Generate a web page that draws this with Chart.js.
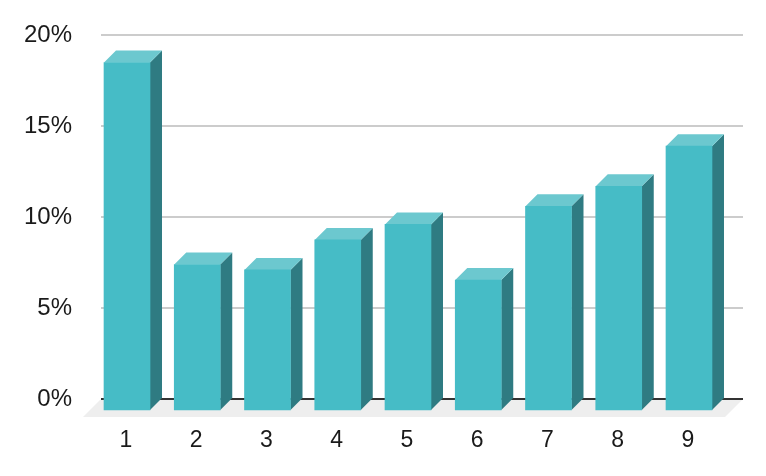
<!DOCTYPE html>
<html>
<head>
<meta charset="utf-8">
<style>
  html, body { margin: 0; padding: 0; background: #fff; }
  canvas { display: block; }
</style>
<script src="https://cdn.jsdelivr.net/npm/chart.js@4"></script>
</head>
<body>
<canvas id="chart" width="766" height="476"></canvas>
<script>
const CATEGORIES = [1, 2, 3, 4, 5, 6, 7, 8, 9];
const VALUES = [19.15, 8.05, 7.75, 9.4, 10.25, 7.2, 11.25, 12.35, 14.55];
const Y_TICKS = [0, 5, 10, 15, 20];

const FRONT = '#46bcc6', SIDE = '#2f7b82', TOP = '#6cc8cf';
const DEPTH_X = 12, DEPTH_Y = 12;

// Floor, side and top faces are hung off the library's bar elements;
// the bars themselves get drawn shifted forward as the front faces.
const box3d = {
  id: 'box3d',
  beforeDraw(chart) {
    const { ctx, chartArea: a } = chart;
    ctx.save();
    ctx.fillStyle = '#eeeeee';
    ctx.beginPath();
    ctx.moveTo(a.left, a.bottom);
    ctx.lineTo(a.right, a.bottom);
    ctx.lineTo(a.right - 18, a.bottom + 18);
    ctx.lineTo(a.left - 18, a.bottom + 18);
    ctx.closePath();
    ctx.fill();
    ctx.restore();
  },
  beforeDatasetsDraw(chart) {
    const { ctx } = chart;
    ctx.save();
    ctx.translate(-DEPTH_X, DEPTH_Y);
    chart.getDatasetMeta(0).data.forEach(bar => {
      const l = bar.x - bar.width / 2, r = bar.x + bar.width / 2;
      ctx.fillStyle = SIDE;
      ctx.beginPath();
      ctx.moveTo(r, bar.y);
      ctx.lineTo(r + DEPTH_X, bar.y - DEPTH_X);
      ctx.lineTo(r + DEPTH_X, bar.base - DEPTH_X);
      ctx.lineTo(r, bar.base);
      ctx.closePath();
      ctx.fill();
      ctx.fillStyle = TOP;
      ctx.beginPath();
      ctx.moveTo(l, bar.y);
      ctx.lineTo(l + DEPTH_X, bar.y - DEPTH_X);
      ctx.lineTo(r + DEPTH_X, bar.y - DEPTH_X);
      ctx.lineTo(r, bar.y);
      ctx.closePath();
      ctx.fill();
    });
  },
  afterDatasetsDraw(chart) {
    chart.ctx.restore();
  }
};

new Chart(document.getElementById('chart'), {
  type: 'bar',
  data: {
    datasets: [{
      data: CATEGORIES.map((c, i) => ({ x: c, y: VALUES[i] })),
      backgroundColor: FRONT,
      borderWidth: 0,
      barThickness: 46,
      clip: false
    }]
  },
  plugins: [box3d],
  options: {
    responsive: false,
    animation: false,
    layout: { padding: { top: 35, right: 23, left: 0, bottom: 0 } },
    plugins: { legend: { display: false }, tooltip: { enabled: false } },
    scales: {
      x: {
        type: 'linear',
        offset: false,
        min: 0.459,
        max: 9.598,
        afterBuildTicks: s => { s.ticks = CATEGORIES.map(v => ({ value: v })); },
        afterFit: s => { s.height = 77; s.paddingLeft = 0; s.paddingRight = 0; },
        grid: { display: false },
        border: { display: false },
        ticks: {
          autoSkip: false,
          maxRotation: 0,
          labelOffset: -13,
          padding: 20,
          color: '#1a1a1a',
          font: { family: 'Liberation Sans', size: 23 },
          callback: v => String(v)
        }
      },
      y: {
        min: 0,
        max: 20,
        afterBuildTicks: s => { s.ticks = Y_TICKS.map(v => ({ value: v })); },
        afterFit: s => { s.width = 101; s.paddingTop = 0; s.paddingBottom = 0; },
        border: { display: false },
        grid: {
          drawTicks: false,
          lineWidth: 2,
          color: c => c.tick.value === 0 ? '#333333' : '#cccccc'
        },
        ticks: {
          padding: 29,
          color: '#1a1a1a',
          font: { family: 'Liberation Sans', size: 24 },
          callback: v => v + '%'
        }
      }
    }
  }
});
</script>
</body>
</html>
